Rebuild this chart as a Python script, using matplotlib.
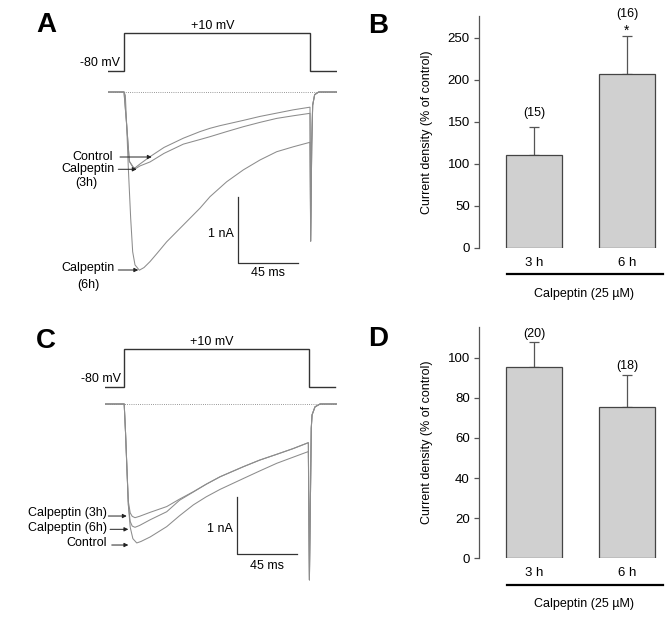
import matplotlib
matplotlib.use('Agg')
import matplotlib.pyplot as plt
import matplotlib.transforms as mtransforms

plt.rcParams['font.family'] = ['Liberation Sans', 'DejaVu Sans']
plt.rcParams['font.size'] = 9

W, H, DPI = 671, 618, 100

# ---------------- data ----------------
# voltage protocol
hold_mv = -80
test_mv = 10
step_on_ms = 0.0
step_off_a_ms = 139.5
step_off_c_ms = 138.9
scale_nA = 1
scale_ms = 45

# Panel A current traces (time in ms, current in nA)
a_ctrl_t = [-12, 0, 2, 4, 7, 8.25, 12, 19.5, 30, 44.5, 57, 64.5, 72, 89.5, 102, 114.5, 127, 139.5,
            140.0, 140.8, 141.5, 143, 146, 159.8]
a_ctrl_i = [0, 0, -0.5, -1.05, -1.14, -1.15, -1.09, -0.98, -0.84, -0.70, -0.60, -0.55, -0.51, -0.43,
            -0.37, -0.32, -0.27, -0.23, -2.26, -0.8, -0.2, -0.04, 0, 0]
a_3h_t = [-12, 0, 2, 4, 7, 8.25, 12, 19.5, 30, 44.5, 57, 64.5, 77, 89.5, 102, 114.5, 127, 139.5,
          140.0, 140.8, 141.5, 143, 146, 159.8]
a_3h_i = [0, 0, -0.5, -1.05, -1.15, -1.167, -1.12, -1.06, -0.93, -0.79, -0.72, -0.677, -0.60, -0.526,
          -0.46, -0.40, -0.36, -0.323, -2.26, -0.8, -0.2, -0.04, 0, 0]
a_6h_t = [-12, 0, 1, 2, 3.25, 5, 6.5, 8.25, 11.5, 15, 19.5, 25, 32, 44.5, 57, 64.5, 77, 89.5, 102,
          114.5, 127, 139.5, 140.0, 140.8, 141.5, 143, 146, 159.8]
a_6h_i = [0, 0, -0.05, -0.5, -1.157, -1.91, -2.42, -2.62, -2.70, -2.66, -2.57, -2.44, -2.27, -2.015,
          -1.76, -1.586, -1.36, -1.18, -1.03, -0.905, -0.83, -0.762, -2.26, -0.8, -0.2, -0.04, 0, 0]

# Panel C current traces
c_ctrl_t = [-14, 0.5, 1.5, 2.5, 3.6, 5, 7, 9.9, 13, 20, 32.4, 42, 52.4, 62, 72.4, 89.9, 102, 114.9,
            127, 138.6, 139.4, 140.4, 140.8, 141.4, 143.6, 147.4, 160.1]
c_ctrl_i = [0, 0, -0.5, -1.1, -1.76, -2.15, -2.35, -2.425, -2.40, -2.32, -2.14, -1.95, -1.76, -1.62,
            -1.49, -1.30, -1.17, -1.035, -0.93, -0.83, -3.07, -1.2, -0.42, -0.19, -0.05, 0, 0]
c_3h_t = [-14, 0.5, 1.5, 2.5, 3.6, 5, 6.5, 8.6, 12, 20, 32.4, 42, 52.4, 62, 72.4, 89.9, 102, 114.9,
          127, 138.6, 139.4, 140.4, 140.8, 141.4, 143.6, 147.4, 160.1]
c_3h_i = [0, 0, -0.5, -1.1, -1.7, -1.9, -1.96, -1.984, -1.96, -1.89, -1.79, -1.66, -1.53, -1.40,
          -1.27, -1.094, -0.98, -0.878, -0.78, -0.675, -3.07, -1.2, -0.42, -0.19, -0.05, 0, 0]
c_6h_t = [-14, 0.5, 1.5, 2.5, 3.6, 5, 6.5, 8.6, 12, 20, 32.4, 42, 52.4, 62, 72.4, 89.9, 102, 114.9,
          127, 138.6, 139.4, 140.4, 140.8, 141.4, 143.6, 147.4, 160.1]
c_6h_i = [0, 0, -0.5, -1.1, -1.75, -2.05, -2.13, -2.152, -2.12, -2.02, -1.88, -1.68, -1.535, -1.40,
          -1.27, -1.094, -0.98, -0.878, -0.78, -0.675, -3.07, -1.2, -0.42, -0.19, -0.05, 0, 0]

# Bar charts
bar_labels = ['3 h', '6 h']
group_label = 'Calpeptin (25 \u00b5M)'
ylabel = 'Current density (% of control)'
b_means = [111.1, 207.1]
b_sem = [33.3, 45.6]
b_n = ['(15)', '(16)']
b_sig = ['', '*']
b_yticks = [0, 50, 100, 150, 200, 250]
d_means = [95.4, 75.5]
d_sem = [12.4, 15.8]
d_n = ['(20)', '(18)']
d_yticks = [0, 20, 40, 60, 80, 100]

# ---------------- figure ----------------
fig = plt.figure(figsize=(W / DPI, H / DPI), dpi=DPI)

def px_axes(left, top, right, bottom):
    ax = fig.add_axes([left / W, 1 - bottom / H, (right - left) / W, (bottom - top) / H])
    return ax

TRACE = '#8c8c8c'
DARK = '#333333'
AXC = '#555555'

def trace_panel(box_i, xlim, ylim, box_v, vlim, step_off, v_text_t, traces, sbar, labels, arrows):
    axv = px_axes(*box_v)
    axv.set_xlim(xlim)
    axv.set_ylim(vlim)
    axv.axis('off')
    st = [xlim[0], step_on_ms, step_on_ms, step_off, step_off, sbar['vend']]
    sv = [hold_mv, hold_mv, test_mv, test_mv, hold_mv, hold_mv]
    axv.plot(st, sv, color=DARK, lw=1.0, solid_joinstyle='miter')
    axv.annotate('+10 mV', xy=((step_on_ms + step_off) / 2 - 3, test_mv), xytext=(0, 5),
                 textcoords='offset points', ha='center', va='center', fontsize=9)
    axv.annotate('-80 mV', xy=(v_text_t, hold_mv), xytext=(0, 5.5),
                 textcoords='offset points', ha='right', va='center', fontsize=9)

    ax = px_axes(*box_i)
    ax.set_xlim(xlim)
    ax.set_ylim(ylim)
    ax.axis('off')
    ax.plot([xlim[0], xlim[1]], [0, 0], color='#777777', lw=0.6, ls=(0, (1, 1.6)))
    for t, i in traces:
        ax.plot(t, i, color=TRACE, lw=0.75)
    # scale bars
    x0, y0 = sbar['t'], sbar['i']
    ax.plot([x0, x0, x0 + scale_ms], [y0 + scale_nA, y0, y0], color=DARK, lw=0.9)
    ax.text(x0 - 3.2, y0 + 0.44 * scale_nA, f'{scale_nA} nA', ha='right', va='center', fontsize=9)
    ax.text(x0 + scale_ms / 2, sbar['ms_y'], f'{scale_ms} ms', ha='center', va='center', fontsize=9)
    for txt, tx, ty, ha in labels:
        ax.text(tx, ty, txt, ha=ha, va='center', fontsize=9, clip_on=False)
    for (xt, xh, yy) in arrows:
        ax.annotate('', xy=(xh, yy), xytext=(xt, yy), annotation_clip=False,
                    arrowprops=dict(arrowstyle='-|>', lw=0.7, color='#222222',
                                    mutation_scale=6, shrinkA=0, shrinkB=0))
    return ax

# Panel A
trace_panel(box_i=(108, 85, 337, 290), xlim=(-12, 159.75), ylim=(-3.0, 0.106),
            box_v=(108, 20, 337, 80), vlim=(-101.3, 40.8), step_off=step_off_a_ms, v_text_t=-3.0,
            traces=[(a_ctrl_t, a_ctrl_i), (a_3h_t, a_3h_i), (a_6h_t, a_6h_i)],
            sbar=dict(t=85.7, i=-2.595, ms_y=-2.74, vend=159.8),
            labels=[('Control', -8.0, -0.98, 'right'), ('Calpeptin', -6.75, -1.171, 'right'),
                    ('(3h)', -28.5, -1.379, 'center'), ('Calpeptin', -6.75, -2.67, 'right'),
                    ('(6h)', -27.0, -2.924, 'center')],
            arrows=[(-3.0, 20.8, -0.985), (-4.3, 9.5, -1.171), (-4.3, 10.7, -2.697)])

# Panel C
trace_panel(box_i=(105, 395, 337, 590), xlim=(-13.9, 160.1), ylim=(-3.246, 0.157),
            box_v=(105, 335, 337, 395), vlim=(-99.8, 43.4), step_off=step_off_c_ms, v_text_t=-2.1,
            traces=[(c_ctrl_t, c_ctrl_i), (c_3h_t, c_3h_i), (c_6h_t, c_6h_i)],
            sbar=dict(t=85.35, i=-2.618, ms_y=-2.83, vend=158.6),
            labels=[('Calpeptin (3h)', -12.6, -1.907, 'right'), ('Calpeptin (6h)', -12.6, -2.169, 'right'),
                    ('Control', -12.6, -2.431, 'right')],
            arrows=[(-11.4, 2.4, -1.955), (-10.1, 3.6, -2.187), (-8.85, 3.6, -2.461)])

# Bar panels
def bar_panel(box, ymax, means, sem, ns, sig, yticks, n_off, sig_off):
    ax = px_axes(*box)
    x = list(range(len(means)))
    ax.bar(x, means, width=0.602, color='#d0d0d0', edgecolor='#444444', linewidth=0.9, zorder=2)
    ax.errorbar(x, means, yerr=[[0] * len(sem), sem], fmt='none', ecolor=AXC, elinewidth=0.9,
                capsize=3.5, capthick=0.9, zorder=1)
    ax.set_xlim(-0.5914, 1.409)
    ax.set_ylim(0, ymax)
    for s in ['top', 'right', 'bottom']:
        ax.spines[s].set_visible(False)
    ax.spines['left'].set_color(AXC)
    ax.spines['left'].set_linewidth(0.9)
    ax.set_yticks(yticks)
    ax.tick_params(axis='y', direction='out', length=3.6, width=0.9, color=AXC, labelsize=9.5, pad=3)
    ax.set_xticks(x)
    ax.set_xticklabels(bar_labels)
    ax.tick_params(axis='x', length=0, labelsize=9.5, pad=6.5)
    ax.set_ylabel(ylabel, fontsize=9)
    ax.yaxis.set_label_coords(-0.247, 0.5)
    for i in x:
        ax.annotate(ns[i], xy=(i, means[i] + sem[i]), xytext=(0, n_off[i]), textcoords='offset points',
                    ha='center', va='center', fontsize=9)
        if sig[i]:
            ax.annotate(sig[i], xy=(i, means[i] + sem[i]), xytext=(0, sig_off), textcoords='offset points',
                        ha='center', va='center', fontsize=10)
    trans = mtransforms.blended_transform_factory(ax.transData, ax.transAxes)
    hpx = box[3] - box[1]
    ax.plot([-0.29, 1.384], [-26.3 / hpx] * 2, transform=trans, clip_on=False, color='black', lw=1.6)
    ax.text(0.54, -46 / hpx, group_label, transform=trans, ha='center', va='center', fontsize=9)
    return ax

bar_panel((479, 16, 665, 248), 276, b_means, b_sem, b_n, b_sig, b_yticks, n_off=[10.1, 15.6], sig_off=3.5)
bar_panel((479, 326.7, 665, 558.3), 115.4, d_means, d_sem, d_n, ['', ''], d_yticks, n_off=[6.0, 6.7], sig_off=0)

# panel letters
for letter, x, y in [('A', 46.7, 31.7), ('B', 378, 32.7), ('C', 46, 348), ('D', 378, 346)]:
    fig.text(x / W, 1 - y / H, letter, ha='center', va='baseline', fontsize=20, fontweight='bold')

fig.savefig('out.png', dpi=DPI)
